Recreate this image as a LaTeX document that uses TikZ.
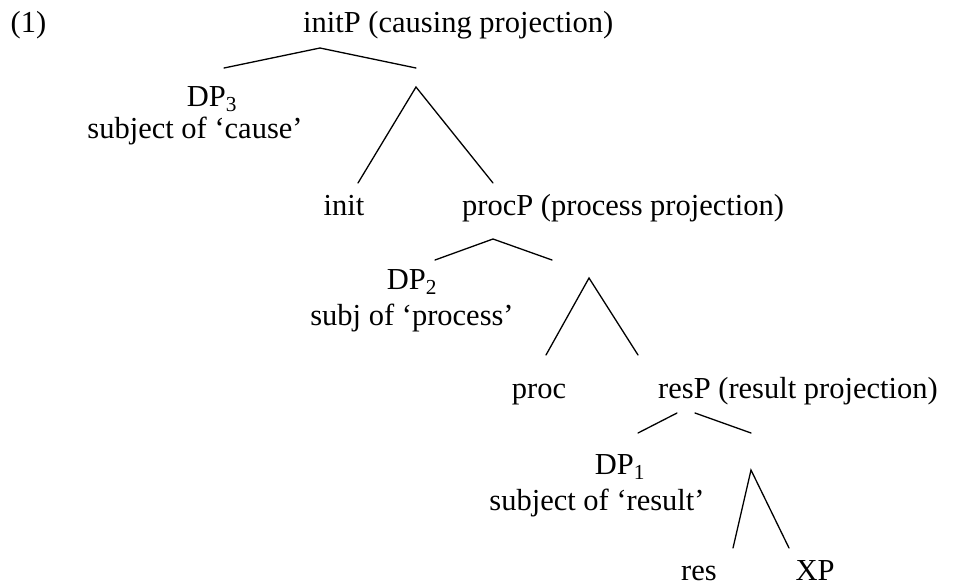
\documentclass[tikz,border=0pt]{standalone}
\usepackage{fontspec}
\setmainfont{Liberation Serif}
\begin{document}
\begin{tikzpicture}[x=1pt,y=-1pt,
  lbl/.style={inner sep=0pt,anchor=base,font=\fontsize{30.5}{36}\selectfont},
  lblw/.style={lbl,anchor=base west},
  branch/.style={line width=1.3pt,line cap=round}]
\useasboundingbox (0,0) rectangle (963,587);
% labels
\node[lbl] (ex) at (28.5,32) {(1)};
\node[lblw] (initP) at (303,32) {initP (causing projection)};
\node[lbl] (dp3) at (212,106) {DP\textsubscript{3}};
\node[lbl] (dp3s) at (195,138) {subject of ‘cause’};
\node[lbl] (init) at (344,215) {init};
\node[lblw] (procP) at (462,215) {procP (process projection)};
\node[lbl] (dp2) at (412,289) {DP\textsubscript{2}};
\node[lbl] (dp2s) at (412,325) {subj of ‘process’};
\node[lbl] (proc) at (539,398) {proc};
\node[lblw] (resP) at (658,398) {resP (result projection)};
\node[lbl] (dp1) at (620,474) {DP\textsubscript{1}};
\node[lbl] (dp1s) at (597,510) {subject of ‘result’};
\node[lbl] (res) at (699,580) {res};
\node[lbl] (xp) at (815,580) {XP};
% branch points
\coordinate (a0) at (320,48);
\coordinate (a1) at (224,68);
\coordinate (a2) at (416,68);
\coordinate (b0) at (416,87);
\coordinate (b1) at (358,183);
\coordinate (b2) at (493,183);
\coordinate (c0) at (493,239);
\coordinate (c1) at (435,260);
\coordinate (c2) at (552,260);
\coordinate (d0) at (589,278);
\coordinate (d1) at (546,355);
\coordinate (d2) at (638,355);
\coordinate (e0) at (677,413);
\coordinate (e1) at (638,433);
\coordinate (f0) at (695,413);
\coordinate (f1) at (751,433);
\coordinate (g0) at (751,470);
\coordinate (g1) at (733,548);
\coordinate (g2) at (789,548);
% branches
\draw[branch] (a1) -- (a0) -- (a2);
\draw[branch] (b1) -- (b0) -- (b2);
\draw[branch] (c1) -- (c0) -- (c2);
\draw[branch] (d1) -- (d0) -- (d2);
\draw[branch] (e0) -- (e1);
\draw[branch] (f0) -- (f1);
\draw[branch] (g1) -- (g0) -- (g2);
\end{tikzpicture}
\end{document}
